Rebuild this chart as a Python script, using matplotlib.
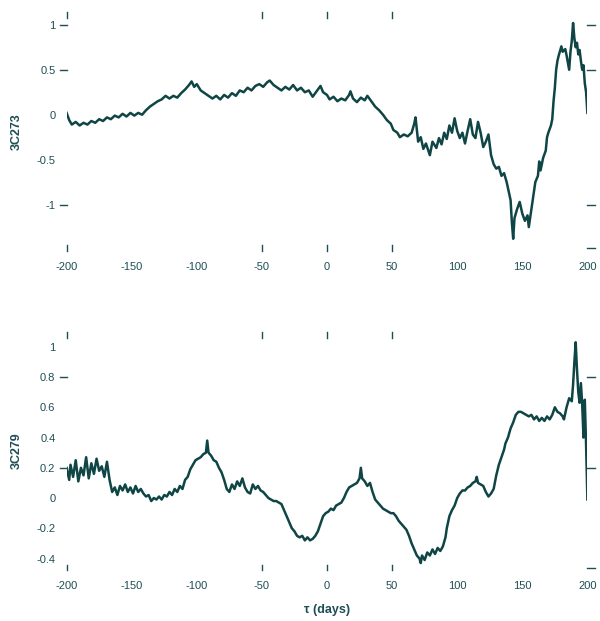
import matplotlib
matplotlib.use("Agg")
import matplotlib.pyplot as plt

plt.rcParams['font.family'] = ['Liberation Sans', 'DejaVu Sans']
plt.rcParams['axes.unicode_minus'] = False

# ---- data: 3C273 ----
tau_273 = [-200,-198,-196,-193,-190,-187,-184,-181,-178,-175,-172,-169,-166,-163,-160,-157,-154,-151,-148,-145,
           -142,-139,-136,-133,-130,-127,-124,-121,-118,-115,-112,-109,-106,-104,-102,-100,-97,-94,-91,-88,
           -85,-82,-79,-76,-73,-70,-67,-64,-61,-58,-55,-52,-49,-46,-44,-41,-38,-35,-32,-29,
           -26,-23,-20,-17,-14,-11,-8,-5,-3,0,2,5,8,11,14,17,18,20,23,26,
           29,31,34,37,40,43,46,49,51,54,56,59,62,65,67,68,70,72,74,76,
           79,81,84,86,88,90,92,94,96,98,100,102,104,106,108,110,112,114,116,118,
           120,122,124,126,128,130,132,134,136,138,140,141,142,143,144,146,148,150,152,154,
           155,157,159,160,162,163,164,166,168,169,170,172,173,174,175,176,177,178,180,181,
           183,184,186,187,188,189,190,191,192,193,194,195,196,197,198,199,200]
val_273 = [0.02,-0.06,-0.11,-0.08,-0.12,-0.09,-0.11,-0.07,-0.09,-0.05,-0.07,-0.03,-0.05,-0.01,-0.03,0.01,-0.02,0.02,-0.01,0.02,
           0.0,0.05,0.09,0.12,0.15,0.17,0.21,0.18,0.21,0.19,0.24,0.28,0.33,0.37,0.31,0.34,0.27,0.24,0.21,0.18,
           0.21,0.17,0.22,0.19,0.24,0.21,0.27,0.25,0.30,0.27,0.32,0.34,0.31,0.36,0.38,0.33,0.30,0.27,0.31,0.28,
           0.33,0.27,0.30,0.25,0.27,0.20,0.26,0.32,0.25,0.22,0.17,0.20,0.15,0.18,0.16,0.22,0.26,0.18,0.14,0.19,
           0.16,0.21,0.15,0.09,0.05,0.0,-0.06,-0.10,-0.17,-0.20,-0.25,-0.22,-0.24,-0.20,-0.10,-0.03,-0.30,-0.25,-0.38,-0.32,
           -0.45,-0.30,-0.37,-0.26,-0.33,-0.20,-0.27,-0.12,-0.20,-0.04,-0.18,-0.26,-0.20,-0.32,-0.18,-0.05,-0.22,-0.26,-0.08,-0.20,
           -0.36,-0.30,-0.22,-0.45,-0.55,-0.60,-0.58,-0.68,-0.65,-0.75,-0.88,-0.95,-1.20,-1.38,-1.15,-1.05,-0.97,-1.10,-1.18,-1.12,
           -1.25,-1.05,-0.85,-0.75,-0.68,-0.52,-0.62,-0.48,-0.40,-0.25,-0.20,-0.12,-0.05,0.15,0.30,0.50,0.60,0.66,0.76,0.70,
           0.73,0.66,0.50,0.70,0.82,1.02,0.85,0.75,0.80,0.67,0.72,0.60,0.50,0.55,0.35,0.25,0.02]

# ---- data: 3C279 ----
tau_279 = [-200,-198,-197,-195,-193,-191,-189,-187,-185,-183,-181,-179,-177,-175,-173,-171,-169,-167,-165,-163,
           -161,-159,-157,-155,-153,-151,-149,-147,-145,-143,-141,-139,-137,-135,-133,-131,-129,-127,-125,-123,
           -121,-119,-117,-115,-113,-111,-109,-107,-105,-103,-101,-99,-97,-95,-93,-92,-91,-89,-87,-85,
           -83,-81,-79,-77,-75,-73,-71,-69,-67,-65,-63,-61,-59,-57,-55,-53,-51,-49,-47,-45,
           -43,-41,-39,-37,-35,-33,-31,-29,-27,-25,-23,-21,-19,-17,-15,-13,-11,-9,-7,-5,
           -3,-1,1,3,5,7,9,11,13,15,17,19,21,23,25,26,27,29,31,33,
           35,37,39,41,43,45,47,49,51,53,55,57,59,61,63,65,67,69,71,72,
           73,75,77,79,81,83,85,87,89,91,92,94,96,98,100,102,104,106,108,110,
           112,114,115,116,118,120,122,124,126,128,130,132,134,136,137,139,141,143,145,147,
           149,151,153,155,157,159,161,163,165,167,169,171,173,175,177,179,181,182,184,186,
           188,189,190,191,192,193,194,195,196,197,198,199,200]
val_279 = [0.20,0.12,0.22,0.14,0.25,0.11,0.20,0.15,0.27,0.13,0.23,0.16,0.26,0.18,0.21,0.14,0.24,0.12,0.04,0.07,
           0.02,0.08,0.05,0.09,0.04,0.07,0.03,0.08,0.04,0.06,0.03,0.01,0.02,-0.02,0.0,-0.01,0.01,-0.01,0.02,0.01,
           0.04,0.02,0.06,0.04,0.08,0.06,0.12,0.14,0.19,0.22,0.25,0.26,0.27,0.29,0.30,0.38,0.30,0.28,0.25,0.24,
           0.20,0.17,0.12,0.06,0.04,0.09,0.06,0.11,0.08,0.13,0.07,0.04,0.03,0.09,0.06,0.08,0.05,0.04,0.02,0.0,
           -0.01,-0.02,-0.02,-0.03,-0.04,-0.08,-0.12,-0.16,-0.20,-0.22,-0.25,-0.26,-0.25,-0.28,-0.26,-0.28,-0.27,-0.25,-0.22,-0.17,
           -0.12,-0.10,-0.09,-0.07,-0.08,-0.05,-0.04,-0.03,0.0,0.04,0.07,0.08,0.09,0.10,0.13,0.20,0.13,0.11,0.08,0.10,
           0.04,-0.01,-0.03,-0.05,-0.07,-0.08,-0.09,-0.10,-0.10,-0.12,-0.15,-0.17,-0.19,-0.21,-0.25,-0.30,-0.34,-0.38,-0.40,-0.43,
           -0.38,-0.41,-0.36,-0.38,-0.34,-0.37,-0.33,-0.35,-0.32,-0.26,-0.20,-0.12,-0.08,-0.05,0.0,0.03,0.05,0.05,0.07,0.08,
           0.10,0.11,0.14,0.10,0.09,0.08,0.04,0.01,0.03,0.06,0.15,0.22,0.27,0.32,0.36,0.40,0.46,0.50,0.55,0.57,
           0.57,0.56,0.55,0.54,0.55,0.52,0.54,0.51,0.53,0.51,0.54,0.52,0.55,0.60,0.57,0.56,0.54,0.52,0.60,0.66,
           0.64,0.75,0.90,1.03,0.85,0.70,0.63,0.76,0.62,0.40,0.65,0.35,-0.01]

x_ticks = [-200, -150, -100, -50, 0, 50, 100, 150, 200]
x_mark_ticks = [-200, -50, 0, 50]

y273_ticks = [1, 0.5, 0, -0.5, -1]
y273_left_marks = [1, 0.5, -1]
y273_right_marks = [1, 0.5, -1, -1.48]
y279_ticks = [1, 0.8, 0.6, 0.4, 0.2, 0, -0.2, -0.4]
y279_left_marks = [0.8, 0.2]
y279_right_marks = [0.8, 0.2, -0.46]

LINE = '#0f4545'
TXT = '#1d4e55'

fig = plt.figure(figsize=(6.0, 6.21), dpi=100)
ax1 = fig.add_axes([0.111, 0.601, 0.868, 0.375])
ax2 = fig.add_axes([0.111, 0.086, 0.868, 0.375])


def style(ax, yticks, ylim, left_marks, right_marks, ylabel):
    for s in ax.spines.values():
        s.set_visible(False)
    ax.set_xlim(-200, 200)
    ax.set_ylim(*ylim)
    ax.set_xticks(x_ticks)
    ax.set_xticklabels([str(t) for t in x_ticks])
    ax.set_yticks(yticks)
    ax.set_yticklabels(['%g' % t for t in yticks])
    ax.tick_params(axis='both', which='major', length=0, labelsize=8, labelcolor=TXT, pad=8)
    ax.tick_params(axis='x', which='major', pad=10)
    xt = ax.get_xaxis_transform()
    for t in x_mark_ticks:
        ax.plot([t, t], [0.988, 1.012], transform=xt, color=TXT, lw=1, clip_on=False)
        ax.plot([t, t], [-0.012, 0.012], transform=xt, color=TXT, lw=1, clip_on=False)
    yt = ax.get_yaxis_transform()
    for v in left_marks:
        ax.plot([-0.012, 0.0], [v, v], transform=yt, color=TXT, lw=1, clip_on=False)
    for v in right_marks:
        ax.plot([1.0, 1.015], [v, v], transform=yt, color=TXT, lw=1, clip_on=False)
    ax.set_ylabel(ylabel, fontsize=9, fontweight='bold', color=TXT, labelpad=10)


ax1.plot(tau_273, val_273, color=LINE, lw=1.8)
style(ax1, y273_ticks, (-1.48, 1.11), y273_left_marks, y273_right_marks, '3C273')

ax2.plot(tau_279, val_279, color=LINE, lw=1.8)
style(ax2, y279_ticks, (-0.46, 1.08), y279_left_marks, y279_right_marks, '3C279')
ax2.set_xlabel('τ (days)', fontsize=9, fontweight='bold', color=TXT, labelpad=9)

fig.savefig('out.png', dpi=100)
